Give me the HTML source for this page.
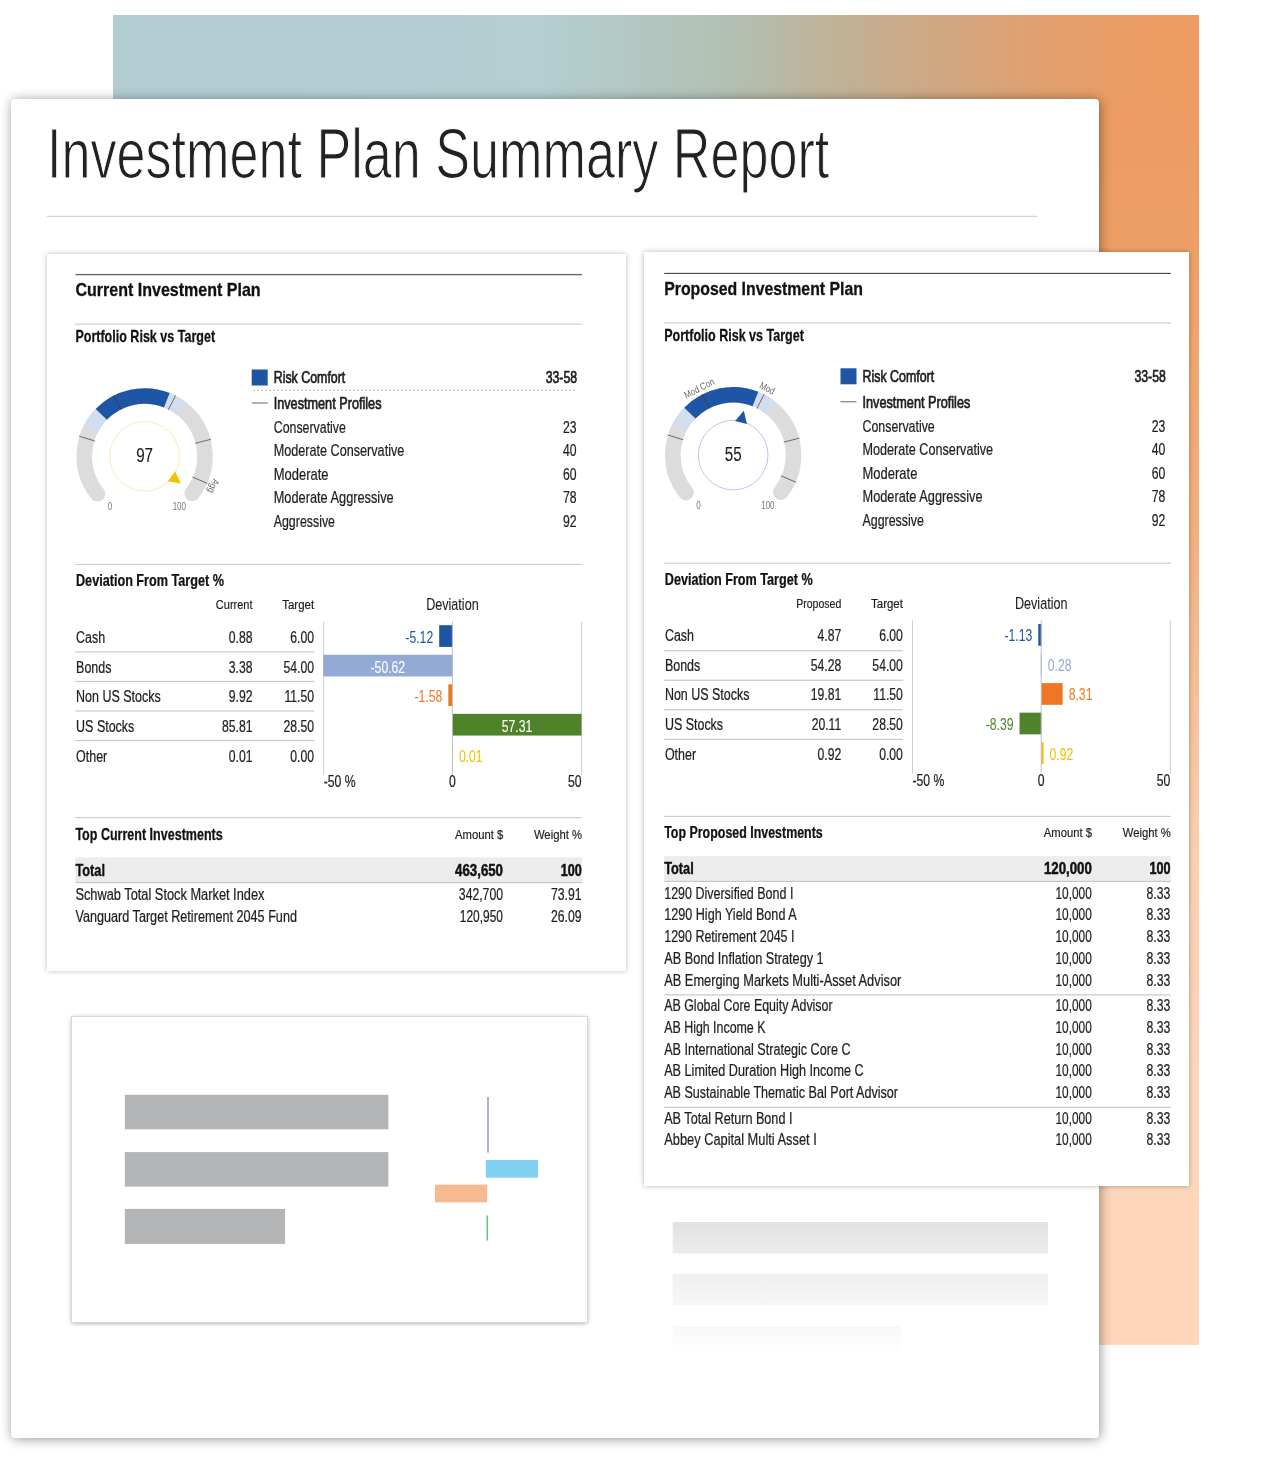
<!DOCTYPE html>
<html lang="en"><head><meta charset="utf-8"><title>Investment Plan Summary Report</title>
<style>
html,body{margin:0;padding:0;background:#fff}
body{width:1288px;height:1469px;position:relative;overflow:hidden;font-family:"Liberation Sans",sans-serif}
.abs{position:absolute}
#bg{left:113px;top:15px;width:1086px;height:1330px;background:
 linear-gradient(to right,#b3cdd3 0,#b3cfd2 427px,#b2c0b2 617px,#c2b094 737px,#d4a67e 847px,#e1a06f 927px,#ec9c62 1027px,#ed9c61 1086px);}
#strip{left:1096px;top:99px;width:103px;height:1246px;background:linear-gradient(to bottom,#ec9c62 0,#ee9f66 150px,#f3b07f 430px,#fbcfae 750px,#fed6b9 1000px,#fed7ba 1246px)}
#page{left:11px;top:99px;width:1088px;height:1339px;background:#fff;border-radius:4px;box-shadow:1px 1px 12px rgba(0,0,0,.42)}
#lp{left:47px;top:254px;width:579px;height:717px;background:#fff;box-shadow:0 0 5px rgba(0,0,0,.26)}
#rp{left:644px;top:252px;width:545px;height:934px;background:#fff;box-shadow:0 0 5px rgba(0,0,0,.3)}
#ph{left:72px;top:1017px;width:515px;height:305px;background:#fff;box-shadow:0 1px 5px rgba(0,0,0,.4);outline:1px solid #d8d8d8}
svg{position:absolute;left:0;top:0}
text{font-family:"Liberation Sans",sans-serif}
</style></head><body>
<div class="abs" id="bg"></div>
<div class="abs" id="strip"></div>
<div class="abs" id="page"></div>
<div class="abs" id="lp"></div>
<div class="abs" id="rp"></div>
<div class="abs" id="ph"></div>
<svg width="1288" height="1469" viewBox="0 0 1288 1469">
<g>
<text transform="translate(47.00 177.80) scale(0.7395 1)" font-size="70.5" fill="#222" stroke="#fff" stroke-width="1.15" paint-order="fill stroke">Investment Plan Summary Report</text>
<rect x="47.00" y="215.80" width="990.00" height="1.00" fill="#c9c9c9"/>
</g>
<g>
<rect x="75.40" y="273.90" width="506.60" height="1.40" fill="#6a6a6a"/>
<text transform="translate(75.40 295.50) scale(0.8912 1)" font-size="18" font-weight="700" fill="#111" stroke="#111" stroke-width="0.3">Current Investment Plan</text>
<rect x="75.40" y="323.60" width="506.60" height="1.20" fill="#cfcfcf"/>
<text transform="translate(75.40 341.70) scale(0.7837 1)" font-size="16" font-weight="700" fill="#111" stroke="#111" stroke-width="0.25">Portfolio Risk vs Target</text>
<path d="M97.42 493.85A60.3 60.3 0 1 1 192.13 493.41" fill="none" stroke="#dcdcdc" stroke-width="15.6" stroke-linecap="round"/>
<path d="M91.31 428.08A60.3 60.3 0 0 1 182.01 409.00" fill="none" stroke="#d2deef" stroke-width="15.6" stroke-linecap="butt"/>
<path d="M101.30 414.34A60.3 60.3 0 0 1 166.80 400.23" fill="none" stroke="#1f55a5" stroke-width="15.6" stroke-linecap="butt"/>
<path d="M94.71 440.95L79.22 436.19" stroke="#3a3a3a" stroke-width="0.7"/>
<path d="M120.90 409.79L113.55 395.36" stroke="#3a3a3a" stroke-width="0.7"/>
<path d="M168.30 409.79L175.65 395.36" stroke="#3a3a3a" stroke-width="0.7"/>
<path d="M195.16 443.32L210.85 439.29" stroke="#3a3a3a" stroke-width="0.7"/>
<path d="M192.51 477.03L207.37 483.46" stroke="#3a3a3a" stroke-width="0.7"/>
<circle cx="144.6" cy="456.3" r="34.8" fill="none" stroke="#fbe2a0" stroke-width="0.75"/>
<path d="M180.99 483.62L167.73 481.29L175.05 471.54Z" fill="#f5c000"/>
<text transform="translate(144.60 461.90) scale(0.7800 1)" font-size="19.5" fill="#1e1e1e" text-anchor="middle" stroke="#1e1e1e" stroke-width="0.1">97</text>
<text transform="translate(109.90 509.90) scale(0.8000 1)" font-size="10" fill="#777" text-anchor="middle">0</text>
<text transform="translate(179.30 509.90) scale(0.8000 1)" font-size="10" fill="#777" text-anchor="middle">100</text>
<text transform="translate(210.31 484.74) rotate(473.40) scale(0.8000 1)" font-size="10" fill="#666" text-anchor="middle">Agg</text>
<rect x="251.70" y="369.50" width="16.00" height="16.00" fill="#1f55a5"/>
<text transform="translate(273.70 383.40) scale(0.7756 1)" font-size="16" fill="#1e1e1e" stroke="#1e1e1e" stroke-width="0.7">Risk Comfort</text>
<text transform="translate(577.00 383.40) scale(0.7650 1)" font-size="16" fill="#1e1e1e" text-anchor="end" stroke="#1e1e1e" stroke-width="0.7">33-58</text>
<path d="M253.6 390.4H577" stroke="#666" stroke-width="1" stroke-dasharray="0.9 3.1"/>
<rect x="251.70" y="402.55" width="16.00" height="0.90" fill="#555"/>
<text transform="translate(273.70 409.20) scale(0.7931 1)" font-size="16" fill="#1e1e1e" stroke="#1e1e1e" stroke-width="0.7">Investment Profiles</text>
<text transform="translate(273.70 432.80) scale(0.7743 1)" font-size="16" fill="#1e1e1e" stroke="#1e1e1e" stroke-width="0.22">Conservative</text>
<text transform="translate(576.60 432.80) scale(0.7500 1)" font-size="16.3" fill="#1e1e1e" text-anchor="end" stroke="#1e1e1e" stroke-width="0.22">23</text>
<text transform="translate(273.70 456.20) scale(0.7902 1)" font-size="16" fill="#1e1e1e" stroke="#1e1e1e" stroke-width="0.22">Moderate Conservative</text>
<text transform="translate(576.60 456.20) scale(0.7500 1)" font-size="16.3" fill="#1e1e1e" text-anchor="end" stroke="#1e1e1e" stroke-width="0.22">40</text>
<text transform="translate(273.70 479.80) scale(0.8123 1)" font-size="16" fill="#1e1e1e" stroke="#1e1e1e" stroke-width="0.22">Moderate</text>
<text transform="translate(576.60 479.80) scale(0.7500 1)" font-size="16.3" fill="#1e1e1e" text-anchor="end" stroke="#1e1e1e" stroke-width="0.22">60</text>
<text transform="translate(273.70 503.40) scale(0.7991 1)" font-size="16" fill="#1e1e1e" stroke="#1e1e1e" stroke-width="0.22">Moderate Aggressive</text>
<text transform="translate(576.60 503.40) scale(0.7500 1)" font-size="16.3" fill="#1e1e1e" text-anchor="end" stroke="#1e1e1e" stroke-width="0.22">78</text>
<text transform="translate(273.70 526.80) scale(0.7758 1)" font-size="16" fill="#1e1e1e" stroke="#1e1e1e" stroke-width="0.22">Aggressive</text>
<text transform="translate(576.60 526.80) scale(0.7500 1)" font-size="16.3" fill="#1e1e1e" text-anchor="end" stroke="#1e1e1e" stroke-width="0.22">92</text>
<rect x="75.40" y="563.80" width="506.60" height="1.20" fill="#cfcfcf"/>
<text transform="translate(76.00 585.80) scale(0.7903 1)" font-size="16" font-weight="700" fill="#111" stroke="#111" stroke-width="0.25">Deviation From Target %</text>
<text transform="translate(252.50 609.10) scale(0.8153 1)" font-size="13.5" fill="#1e1e1e" text-anchor="end" stroke="#1e1e1e" stroke-width="0.2">Current</text>
<text transform="translate(314.10 609.10) scale(0.8503 1)" font-size="13.5" fill="#1e1e1e" text-anchor="end" stroke="#1e1e1e" stroke-width="0.2">Target</text>
<text transform="translate(452.40 610.00) scale(0.7886 1)" font-size="16" fill="#1e1e1e" text-anchor="middle" stroke="#1e1e1e" stroke-width="0.1">Deviation</text>
<rect x="323.20" y="621.50" width="1.00" height="153.30" fill="#cfcfcf"/>
<rect x="581.00" y="621.50" width="1.00" height="153.30" fill="#cfcfcf"/>
<text transform="translate(76.10 642.90) scale(0.8000 1)" font-size="15.6" fill="#1e1e1e" stroke="#1e1e1e" stroke-width="0.22">Cash</text>
<text transform="translate(252.50 642.90) scale(0.7500 1)" font-size="16.3" fill="#1e1e1e" text-anchor="end" stroke="#1e1e1e" stroke-width="0.22">0.88</text>
<text transform="translate(314.10 642.90) scale(0.7500 1)" font-size="16.3" fill="#1e1e1e" text-anchor="end" stroke="#1e1e1e" stroke-width="0.22">6.00</text>
<rect x="75.40" y="651.30" width="238.70" height="1.20" fill="#c8c8c8"/>
<rect x="439.18" y="625.20" width="13.52" height="21.70" fill="#1f55a5"/>
<text transform="translate(433.18 642.90) scale(0.7500 1)" font-size="16.3" fill="#1f55a5" text-anchor="end">-5.12</text>
<text transform="translate(76.10 673.00) scale(0.8000 1)" font-size="15.6" fill="#1e1e1e" stroke="#1e1e1e" stroke-width="0.22">Bonds</text>
<text transform="translate(252.50 673.00) scale(0.7500 1)" font-size="16.3" fill="#1e1e1e" text-anchor="end" stroke="#1e1e1e" stroke-width="0.22">3.38</text>
<text transform="translate(314.10 673.00) scale(0.7500 1)" font-size="16.3" fill="#1e1e1e" text-anchor="end" stroke="#1e1e1e" stroke-width="0.22">54.00</text>
<rect x="75.40" y="680.85" width="238.70" height="1.20" fill="#c8c8c8"/>
<rect x="323.30" y="654.75" width="129.40" height="21.70" fill="#92aad4"/>
<text transform="translate(387.85 673.00) scale(0.7500 1)" font-size="16.3" fill="#fff" text-anchor="middle" stroke="#fff" stroke-width="0.1">-50.62</text>
<text transform="translate(76.10 701.80) scale(0.8000 1)" font-size="15.6" fill="#1e1e1e" stroke="#1e1e1e" stroke-width="0.22">Non US Stocks</text>
<text transform="translate(252.50 701.80) scale(0.7500 1)" font-size="16.3" fill="#1e1e1e" text-anchor="end" stroke="#1e1e1e" stroke-width="0.22">9.92</text>
<text transform="translate(314.10 701.80) scale(0.7500 1)" font-size="16.3" fill="#1e1e1e" text-anchor="end" stroke="#1e1e1e" stroke-width="0.22">11.50</text>
<rect x="75.40" y="710.40" width="238.70" height="1.20" fill="#c8c8c8"/>
<rect x="448.32" y="684.30" width="4.38" height="21.70" fill="#ef7622"/>
<text transform="translate(442.32 701.80) scale(0.7500 1)" font-size="16.3" fill="#ef7622" text-anchor="end">-1.58</text>
<text transform="translate(76.10 731.90) scale(0.8000 1)" font-size="15.6" fill="#1e1e1e" stroke="#1e1e1e" stroke-width="0.22">US Stocks</text>
<text transform="translate(252.50 731.90) scale(0.7500 1)" font-size="16.3" fill="#1e1e1e" text-anchor="end" stroke="#1e1e1e" stroke-width="0.22">85.81</text>
<text transform="translate(314.10 731.90) scale(0.7500 1)" font-size="16.3" fill="#1e1e1e" text-anchor="end" stroke="#1e1e1e" stroke-width="0.22">28.50</text>
<rect x="75.40" y="739.95" width="238.70" height="1.20" fill="#c8c8c8"/>
<rect x="452.40" y="713.85" width="129.10" height="21.70" fill="#4f8329"/>
<text transform="translate(516.95 731.90) scale(0.7500 1)" font-size="16.3" fill="#fff" text-anchor="middle" stroke="#fff" stroke-width="0.1">57.31</text>
<text transform="translate(76.10 761.60) scale(0.8000 1)" font-size="15.6" fill="#1e1e1e" stroke="#1e1e1e" stroke-width="0.22">Other</text>
<text transform="translate(252.50 761.60) scale(0.7500 1)" font-size="16.3" fill="#1e1e1e" text-anchor="end" stroke="#1e1e1e" stroke-width="0.22">0.01</text>
<text transform="translate(314.10 761.60) scale(0.7500 1)" font-size="16.3" fill="#1e1e1e" text-anchor="end" stroke="#1e1e1e" stroke-width="0.22">0.00</text>
<rect x="452.00" y="743.40" width="0.90" height="21.70" fill="#f5c000"/>
<text transform="translate(458.90 761.60) scale(0.7500 1)" font-size="16.3" fill="#f5c000">0.01</text>
<rect x="451.90" y="621.50" width="1.00" height="153.30" fill="#c0c0c0"/>
<text transform="translate(323.70 787.40) scale(0.7500 1)" font-size="16.3" fill="#1e1e1e" stroke="#1e1e1e" stroke-width="0.22">-50 %</text>
<text transform="translate(452.40 787.40) scale(0.7500 1)" font-size="16.3" fill="#1e1e1e" text-anchor="middle" stroke="#1e1e1e" stroke-width="0.22">0</text>
<text transform="translate(581.50 787.40) scale(0.7500 1)" font-size="16.3" fill="#1e1e1e" text-anchor="end" stroke="#1e1e1e" stroke-width="0.22">50</text>
<rect x="75.40" y="817.00" width="506.60" height="1.20" fill="#cfcfcf"/>
<text transform="translate(75.40 839.60) scale(0.7834 1)" font-size="16" font-weight="700" fill="#111" stroke="#111" stroke-width="0.25">Top Current Investments</text>
<text transform="translate(503.20 838.50) scale(0.8342 1)" font-size="13.5" fill="#1e1e1e" text-anchor="end" stroke="#1e1e1e" stroke-width="0.2">Amount $</text>
<text transform="translate(582.00 838.50) scale(0.8362 1)" font-size="13.5" fill="#1e1e1e" text-anchor="end" stroke="#1e1e1e" stroke-width="0.2">Weight %</text>
<rect x="75.40" y="857.40" width="506.60" height="24.70" fill="#ececec"/>
<rect x="75.40" y="882.05" width="506.60" height="1.10" fill="#c4c4c4"/>
<text transform="translate(75.40 875.70) scale(0.7895 1)" font-size="16.2" font-weight="700" fill="#111" stroke="#111" stroke-width="0.4">Total</text>
<text transform="translate(503.00 876.00) scale(0.8181 1)" font-size="16.2" font-weight="700" fill="#111" text-anchor="end" stroke="#111" stroke-width="0.5">463,650</text>
<text transform="translate(581.80 876.00) scale(0.7770 1)" font-size="16.2" font-weight="700" fill="#111" text-anchor="end" stroke="#111" stroke-width="0.5">100</text>
<text transform="translate(75.40 899.70) scale(0.8209 1)" font-size="15.6" fill="#1e1e1e" stroke="#1e1e1e" stroke-width="0.22">Schwab Total Stock Market Index</text>
<text transform="translate(503.00 899.70) scale(0.7502 1)" font-size="16.3" fill="#1e1e1e" text-anchor="end" stroke="#1e1e1e" stroke-width="0.22">342,700</text>
<text transform="translate(581.50 899.70) scale(0.7500 1)" font-size="16.3" fill="#1e1e1e" text-anchor="end" stroke="#1e1e1e" stroke-width="0.22">73.91</text>
<text transform="translate(75.40 921.60) scale(0.8111 1)" font-size="15.6" fill="#1e1e1e" stroke="#1e1e1e" stroke-width="0.22">Vanguard Target Retirement 2045 Fund</text>
<text transform="translate(503.00 921.60) scale(0.7333 1)" font-size="16.3" fill="#1e1e1e" text-anchor="end" stroke="#1e1e1e" stroke-width="0.22">120,950</text>
<text transform="translate(581.50 921.60) scale(0.7500 1)" font-size="16.3" fill="#1e1e1e" text-anchor="end" stroke="#1e1e1e" stroke-width="0.22">26.09</text>
</g>
<g transform="translate(588.8 -1.2)">
<rect x="75.40" y="274.05" width="506.60" height="1.10" fill="#444"/>
<text transform="translate(75.40 296.20) scale(0.8799 1)" font-size="18" font-weight="700" fill="#111" stroke="#111" stroke-width="0.3">Proposed Investment Plan</text>
<rect x="75.40" y="323.60" width="506.60" height="1.20" fill="#cfcfcf"/>
<text transform="translate(75.40 341.70) scale(0.7837 1)" font-size="16" font-weight="700" fill="#111" stroke="#111" stroke-width="0.25">Portfolio Risk vs Target</text>
<path d="M97.22 493.85A60.3 60.3 0 1 1 191.93 493.41" fill="none" stroke="#dcdcdc" stroke-width="15.6" stroke-linecap="round"/>
<path d="M91.11 428.08A60.3 60.3 0 0 1 181.81 409.00" fill="none" stroke="#d2deef" stroke-width="15.6" stroke-linecap="butt"/>
<path d="M101.10 414.34A60.3 60.3 0 0 1 166.60 400.23" fill="none" stroke="#1f55a5" stroke-width="15.6" stroke-linecap="butt"/>
<path d="M94.51 440.95L79.02 436.19" stroke="#3a3a3a" stroke-width="0.7"/>
<path d="M120.70 409.79L113.35 395.36" stroke="#3a3a3a" stroke-width="0.7"/>
<path d="M168.10 409.79L175.45 395.36" stroke="#3a3a3a" stroke-width="0.7"/>
<path d="M194.96 443.32L210.65 439.29" stroke="#3a3a3a" stroke-width="0.7"/>
<path d="M192.31 477.03L207.17 483.46" stroke="#3a3a3a" stroke-width="0.7"/>
<circle cx="144.4" cy="456.3" r="34.8" fill="none" stroke="#9db7e0" stroke-width="0.75"/>
<path d="M155.02 412.06L158.15 425.15L146.29 422.30Z" fill="#1f55a5"/>
<text transform="translate(144.40 461.90) scale(0.7800 1)" font-size="19.5" fill="#1e1e1e" text-anchor="middle" stroke="#1e1e1e" stroke-width="0.1">55</text>
<text transform="translate(109.70 509.90) scale(0.8000 1)" font-size="10" fill="#777" text-anchor="middle">0</text>
<text transform="translate(179.10 509.90) scale(0.8000 1)" font-size="10" fill="#777" text-anchor="middle">100</text>
<text transform="translate(111.89 392.50) rotate(333.00) scale(0.8000 1)" font-size="10" fill="#666" text-anchor="middle">Mod Con</text>
<text transform="translate(176.91 392.50) rotate(387.00) scale(0.8000 1)" font-size="10" fill="#666" text-anchor="middle">Mod</text>
<rect x="251.70" y="369.50" width="16.00" height="16.00" fill="#1f55a5"/>
<text transform="translate(273.70 383.40) scale(0.7756 1)" font-size="16" fill="#1e1e1e" stroke="#1e1e1e" stroke-width="0.7">Risk Comfort</text>
<text transform="translate(577.00 383.40) scale(0.7650 1)" font-size="16" fill="#1e1e1e" text-anchor="end" stroke="#1e1e1e" stroke-width="0.7">33-58</text>
<rect x="251.70" y="402.55" width="16.00" height="0.90" fill="#555"/>
<text transform="translate(273.70 409.20) scale(0.7931 1)" font-size="16" fill="#1e1e1e" stroke="#1e1e1e" stroke-width="0.7">Investment Profiles</text>
<text transform="translate(273.70 432.80) scale(0.7743 1)" font-size="16" fill="#1e1e1e" stroke="#1e1e1e" stroke-width="0.22">Conservative</text>
<text transform="translate(576.60 432.80) scale(0.7500 1)" font-size="16.3" fill="#1e1e1e" text-anchor="end" stroke="#1e1e1e" stroke-width="0.22">23</text>
<text transform="translate(273.70 456.20) scale(0.7902 1)" font-size="16" fill="#1e1e1e" stroke="#1e1e1e" stroke-width="0.22">Moderate Conservative</text>
<text transform="translate(576.60 456.20) scale(0.7500 1)" font-size="16.3" fill="#1e1e1e" text-anchor="end" stroke="#1e1e1e" stroke-width="0.22">40</text>
<text transform="translate(273.70 479.80) scale(0.8123 1)" font-size="16" fill="#1e1e1e" stroke="#1e1e1e" stroke-width="0.22">Moderate</text>
<text transform="translate(576.60 479.80) scale(0.7500 1)" font-size="16.3" fill="#1e1e1e" text-anchor="end" stroke="#1e1e1e" stroke-width="0.22">60</text>
<text transform="translate(273.70 503.40) scale(0.7991 1)" font-size="16" fill="#1e1e1e" stroke="#1e1e1e" stroke-width="0.22">Moderate Aggressive</text>
<text transform="translate(576.60 503.40) scale(0.7500 1)" font-size="16.3" fill="#1e1e1e" text-anchor="end" stroke="#1e1e1e" stroke-width="0.22">78</text>
<text transform="translate(273.70 526.80) scale(0.7758 1)" font-size="16" fill="#1e1e1e" stroke="#1e1e1e" stroke-width="0.22">Aggressive</text>
<text transform="translate(576.60 526.80) scale(0.7500 1)" font-size="16.3" fill="#1e1e1e" text-anchor="end" stroke="#1e1e1e" stroke-width="0.22">92</text>
<rect x="75.40" y="563.80" width="506.60" height="1.20" fill="#cfcfcf"/>
<text transform="translate(76.00 585.80) scale(0.7903 1)" font-size="16" font-weight="700" fill="#111" stroke="#111" stroke-width="0.25">Deviation From Target %</text>
<text transform="translate(252.50 609.10) scale(0.7805 1)" font-size="13.5" fill="#1e1e1e" text-anchor="end" stroke="#1e1e1e" stroke-width="0.2">Proposed</text>
<text transform="translate(314.10 609.10) scale(0.8503 1)" font-size="13.5" fill="#1e1e1e" text-anchor="end" stroke="#1e1e1e" stroke-width="0.2">Target</text>
<text transform="translate(452.40 610.00) scale(0.7886 1)" font-size="16" fill="#1e1e1e" text-anchor="middle" stroke="#1e1e1e" stroke-width="0.1">Deviation</text>
<rect x="323.20" y="621.50" width="1.00" height="153.30" fill="#cfcfcf"/>
<rect x="581.00" y="621.50" width="1.00" height="153.30" fill="#cfcfcf"/>
<text transform="translate(76.10 642.20) scale(0.8000 1)" font-size="15.6" fill="#1e1e1e" stroke="#1e1e1e" stroke-width="0.22">Cash</text>
<text transform="translate(252.50 642.20) scale(0.7500 1)" font-size="16.3" fill="#1e1e1e" text-anchor="end" stroke="#1e1e1e" stroke-width="0.22">4.87</text>
<text transform="translate(314.10 642.20) scale(0.7500 1)" font-size="16.3" fill="#1e1e1e" text-anchor="end" stroke="#1e1e1e" stroke-width="0.22">6.00</text>
<rect x="75.40" y="651.30" width="238.70" height="1.20" fill="#c8c8c8"/>
<rect x="449.48" y="625.20" width="3.22" height="21.70" fill="#1f55a5"/>
<text transform="translate(443.48 642.20) scale(0.7500 1)" font-size="16.3" fill="#1f55a5" text-anchor="end">-1.13</text>
<text transform="translate(76.10 671.90) scale(0.8000 1)" font-size="15.6" fill="#1e1e1e" stroke="#1e1e1e" stroke-width="0.22">Bonds</text>
<text transform="translate(252.50 671.90) scale(0.7500 1)" font-size="16.3" fill="#1e1e1e" text-anchor="end" stroke="#1e1e1e" stroke-width="0.22">54.28</text>
<text transform="translate(314.10 671.90) scale(0.7500 1)" font-size="16.3" fill="#1e1e1e" text-anchor="end" stroke="#1e1e1e" stroke-width="0.22">54.00</text>
<rect x="75.40" y="680.85" width="238.70" height="1.20" fill="#c8c8c8"/>
<rect x="452.00" y="654.75" width="0.90" height="21.70" fill="#92aad4"/>
<text transform="translate(458.90 671.90) scale(0.7500 1)" font-size="16.3" fill="#92aad4">0.28</text>
<text transform="translate(76.10 701.50) scale(0.8000 1)" font-size="15.6" fill="#1e1e1e" stroke="#1e1e1e" stroke-width="0.22">Non US Stocks</text>
<text transform="translate(252.50 701.50) scale(0.7500 1)" font-size="16.3" fill="#1e1e1e" text-anchor="end" stroke="#1e1e1e" stroke-width="0.22">19.81</text>
<text transform="translate(314.10 701.50) scale(0.7500 1)" font-size="16.3" fill="#1e1e1e" text-anchor="end" stroke="#1e1e1e" stroke-width="0.22">11.50</text>
<rect x="75.40" y="710.40" width="238.70" height="1.20" fill="#c8c8c8"/>
<rect x="452.40" y="684.30" width="21.46" height="21.70" fill="#ef7622"/>
<text transform="translate(479.86 701.50) scale(0.7500 1)" font-size="16.3" fill="#ef7622">8.31</text>
<text transform="translate(76.10 731.50) scale(0.8000 1)" font-size="15.6" fill="#1e1e1e" stroke="#1e1e1e" stroke-width="0.22">US Stocks</text>
<text transform="translate(252.50 731.50) scale(0.7500 1)" font-size="16.3" fill="#1e1e1e" text-anchor="end" stroke="#1e1e1e" stroke-width="0.22">20.11</text>
<text transform="translate(314.10 731.50) scale(0.7500 1)" font-size="16.3" fill="#1e1e1e" text-anchor="end" stroke="#1e1e1e" stroke-width="0.22">28.50</text>
<rect x="75.40" y="739.95" width="238.70" height="1.20" fill="#c8c8c8"/>
<rect x="430.74" y="713.85" width="21.96" height="21.70" fill="#4f8329"/>
<text transform="translate(424.74 731.50) scale(0.7500 1)" font-size="16.3" fill="#4f8329" text-anchor="end">-8.39</text>
<text transform="translate(76.10 761.20) scale(0.8000 1)" font-size="15.6" fill="#1e1e1e" stroke="#1e1e1e" stroke-width="0.22">Other</text>
<text transform="translate(252.50 761.20) scale(0.7500 1)" font-size="16.3" fill="#1e1e1e" text-anchor="end" stroke="#1e1e1e" stroke-width="0.22">0.92</text>
<text transform="translate(314.10 761.20) scale(0.7500 1)" font-size="16.3" fill="#1e1e1e" text-anchor="end" stroke="#1e1e1e" stroke-width="0.22">0.00</text>
<rect x="452.40" y="743.40" width="2.38" height="21.70" fill="#f5c000"/>
<text transform="translate(460.78 761.20) scale(0.7500 1)" font-size="16.3" fill="#f5c000">0.92</text>
<rect x="451.90" y="621.50" width="1.00" height="153.30" fill="#c0c0c0"/>
<text transform="translate(323.70 787.40) scale(0.7500 1)" font-size="16.3" fill="#1e1e1e" stroke="#1e1e1e" stroke-width="0.22">-50 %</text>
<text transform="translate(452.40 787.40) scale(0.7500 1)" font-size="16.3" fill="#1e1e1e" text-anchor="middle" stroke="#1e1e1e" stroke-width="0.22">0</text>
<text transform="translate(581.50 787.40) scale(0.7500 1)" font-size="16.3" fill="#1e1e1e" text-anchor="end" stroke="#1e1e1e" stroke-width="0.22">50</text>
<rect x="75.40" y="817.00" width="506.60" height="1.20" fill="#cfcfcf"/>
<text transform="translate(75.40 839.60) scale(0.7773 1)" font-size="16" font-weight="700" fill="#111" stroke="#111" stroke-width="0.25">Top Proposed Investments</text>
<text transform="translate(503.20 838.50) scale(0.8342 1)" font-size="13.5" fill="#1e1e1e" text-anchor="end" stroke="#1e1e1e" stroke-width="0.2">Amount $</text>
<text transform="translate(582.00 838.50) scale(0.8362 1)" font-size="13.5" fill="#1e1e1e" text-anchor="end" stroke="#1e1e1e" stroke-width="0.2">Weight %</text>
<rect x="75.40" y="857.40" width="506.60" height="24.70" fill="#ececec"/>
<rect x="75.40" y="882.05" width="506.60" height="1.10" fill="#c4c4c4"/>
<text transform="translate(75.40 875.00) scale(0.7895 1)" font-size="16.2" font-weight="700" fill="#111" stroke="#111" stroke-width="0.4">Total</text>
<text transform="translate(503.00 875.00) scale(0.8181 1)" font-size="16.2" font-weight="700" fill="#111" text-anchor="end" stroke="#111" stroke-width="0.5">120,000</text>
<text transform="translate(581.80 875.00) scale(0.7770 1)" font-size="16.2" font-weight="700" fill="#111" text-anchor="end" stroke="#111" stroke-width="0.5">100</text>
<rect x="75.40" y="995.55" width="506.60" height="1.10" fill="#c4c4c4"/>
<rect x="75.40" y="1108.05" width="506.60" height="1.10" fill="#c4c4c4"/>
<text transform="translate(75.40 899.90) scale(0.8017 1)" font-size="15.6" fill="#1e1e1e" stroke="#1e1e1e" stroke-width="0.22">1290 Diversified Bond I</text>
<text transform="translate(503.00 899.90) scale(0.7282 1)" font-size="16.3" fill="#1e1e1e" text-anchor="end" stroke="#1e1e1e" stroke-width="0.22">10,000</text>
<text transform="translate(581.50 899.90) scale(0.7500 1)" font-size="16.3" fill="#1e1e1e" text-anchor="end" stroke="#1e1e1e" stroke-width="0.22">8.33</text>
<text transform="translate(75.40 921.60) scale(0.8083 1)" font-size="15.6" fill="#1e1e1e" stroke="#1e1e1e" stroke-width="0.22">1290 High Yield Bond A</text>
<text transform="translate(503.00 921.60) scale(0.7282 1)" font-size="16.3" fill="#1e1e1e" text-anchor="end" stroke="#1e1e1e" stroke-width="0.22">10,000</text>
<text transform="translate(581.50 921.60) scale(0.7500 1)" font-size="16.3" fill="#1e1e1e" text-anchor="end" stroke="#1e1e1e" stroke-width="0.22">8.33</text>
<text transform="translate(75.40 943.30) scale(0.7999 1)" font-size="15.6" fill="#1e1e1e" stroke="#1e1e1e" stroke-width="0.22">1290 Retirement 2045 I</text>
<text transform="translate(503.00 943.30) scale(0.7282 1)" font-size="16.3" fill="#1e1e1e" text-anchor="end" stroke="#1e1e1e" stroke-width="0.22">10,000</text>
<text transform="translate(581.50 943.30) scale(0.7500 1)" font-size="16.3" fill="#1e1e1e" text-anchor="end" stroke="#1e1e1e" stroke-width="0.22">8.33</text>
<text transform="translate(75.40 965.00) scale(0.8139 1)" font-size="15.6" fill="#1e1e1e" stroke="#1e1e1e" stroke-width="0.22">AB Bond Inflation Strategy 1</text>
<text transform="translate(503.00 965.00) scale(0.7282 1)" font-size="16.3" fill="#1e1e1e" text-anchor="end" stroke="#1e1e1e" stroke-width="0.22">10,000</text>
<text transform="translate(581.50 965.00) scale(0.7500 1)" font-size="16.3" fill="#1e1e1e" text-anchor="end" stroke="#1e1e1e" stroke-width="0.22">8.33</text>
<text transform="translate(75.40 986.70) scale(0.8220 1)" font-size="15.6" fill="#1e1e1e" stroke="#1e1e1e" stroke-width="0.22">AB Emerging Markets Multi-Asset Advisor</text>
<text transform="translate(503.00 986.70) scale(0.7282 1)" font-size="16.3" fill="#1e1e1e" text-anchor="end" stroke="#1e1e1e" stroke-width="0.22">10,000</text>
<text transform="translate(581.50 986.70) scale(0.7500 1)" font-size="16.3" fill="#1e1e1e" text-anchor="end" stroke="#1e1e1e" stroke-width="0.22">8.33</text>
<text transform="translate(75.40 1012.40) scale(0.7965 1)" font-size="15.6" fill="#1e1e1e" stroke="#1e1e1e" stroke-width="0.22">AB Global Core Equity Advisor</text>
<text transform="translate(503.00 1012.40) scale(0.7282 1)" font-size="16.3" fill="#1e1e1e" text-anchor="end" stroke="#1e1e1e" stroke-width="0.22">10,000</text>
<text transform="translate(581.50 1012.40) scale(0.7500 1)" font-size="16.3" fill="#1e1e1e" text-anchor="end" stroke="#1e1e1e" stroke-width="0.22">8.33</text>
<text transform="translate(75.40 1034.10) scale(0.7956 1)" font-size="15.6" fill="#1e1e1e" stroke="#1e1e1e" stroke-width="0.22">AB High Income K</text>
<text transform="translate(503.00 1034.10) scale(0.7282 1)" font-size="16.3" fill="#1e1e1e" text-anchor="end" stroke="#1e1e1e" stroke-width="0.22">10,000</text>
<text transform="translate(581.50 1034.10) scale(0.7500 1)" font-size="16.3" fill="#1e1e1e" text-anchor="end" stroke="#1e1e1e" stroke-width="0.22">8.33</text>
<text transform="translate(75.40 1055.80) scale(0.8086 1)" font-size="15.6" fill="#1e1e1e" stroke="#1e1e1e" stroke-width="0.22">AB International Strategic Core C</text>
<text transform="translate(503.00 1055.80) scale(0.7282 1)" font-size="16.3" fill="#1e1e1e" text-anchor="end" stroke="#1e1e1e" stroke-width="0.22">10,000</text>
<text transform="translate(581.50 1055.80) scale(0.7500 1)" font-size="16.3" fill="#1e1e1e" text-anchor="end" stroke="#1e1e1e" stroke-width="0.22">8.33</text>
<text transform="translate(75.40 1077.50) scale(0.8102 1)" font-size="15.6" fill="#1e1e1e" stroke="#1e1e1e" stroke-width="0.22">AB Limited Duration High Income C</text>
<text transform="translate(503.00 1077.50) scale(0.7282 1)" font-size="16.3" fill="#1e1e1e" text-anchor="end" stroke="#1e1e1e" stroke-width="0.22">10,000</text>
<text transform="translate(581.50 1077.50) scale(0.7500 1)" font-size="16.3" fill="#1e1e1e" text-anchor="end" stroke="#1e1e1e" stroke-width="0.22">8.33</text>
<text transform="translate(75.40 1099.20) scale(0.8067 1)" font-size="15.6" fill="#1e1e1e" stroke="#1e1e1e" stroke-width="0.22">AB Sustainable Thematic Bal Port Advisor</text>
<text transform="translate(503.00 1099.20) scale(0.7282 1)" font-size="16.3" fill="#1e1e1e" text-anchor="end" stroke="#1e1e1e" stroke-width="0.22">10,000</text>
<text transform="translate(581.50 1099.20) scale(0.7500 1)" font-size="16.3" fill="#1e1e1e" text-anchor="end" stroke="#1e1e1e" stroke-width="0.22">8.33</text>
<text transform="translate(75.40 1124.90) scale(0.8100 1)" font-size="15.6" fill="#1e1e1e" stroke="#1e1e1e" stroke-width="0.22">AB Total Return Bond I</text>
<text transform="translate(503.00 1124.90) scale(0.7282 1)" font-size="16.3" fill="#1e1e1e" text-anchor="end" stroke="#1e1e1e" stroke-width="0.22">10,000</text>
<text transform="translate(581.50 1124.90) scale(0.7500 1)" font-size="16.3" fill="#1e1e1e" text-anchor="end" stroke="#1e1e1e" stroke-width="0.22">8.33</text>
<text transform="translate(75.40 1146.60) scale(0.8235 1)" font-size="15.6" fill="#1e1e1e" stroke="#1e1e1e" stroke-width="0.22">Abbey Capital Multi Asset I</text>
<text transform="translate(503.00 1146.60) scale(0.7282 1)" font-size="16.3" fill="#1e1e1e" text-anchor="end" stroke="#1e1e1e" stroke-width="0.22">10,000</text>
<text transform="translate(581.50 1146.60) scale(0.7500 1)" font-size="16.3" fill="#1e1e1e" text-anchor="end" stroke="#1e1e1e" stroke-width="0.22">8.33</text>
</g>
<rect x="124.80" y="1094.80" width="263.60" height="34.50" fill="#b4b5b7"/>
<rect x="124.80" y="1152.10" width="263.60" height="34.50" fill="#b4b5b7"/>
<rect x="124.80" y="1208.90" width="160.30" height="35.00" fill="#b4b5b7"/>
<rect x="487.30" y="1097.00" width="1.40" height="55.60" fill="#8f8fc4"/>
<rect x="485.80" y="1160.00" width="52.20" height="17.70" fill="#7fd0f3"/>
<rect x="435.00" y="1184.70" width="52.20" height="17.70" fill="#f7b98f"/>
<rect x="486.50" y="1215.50" width="1.60" height="25.10" fill="#6cc08b"/>
<defs><linearGradient id="f1" x1="0" y1="0" x2="0" y2="1"><stop offset="0" stop-color="#e0e2e3"/><stop offset="1" stop-color="#ececec"/></linearGradient><linearGradient id="f2" x1="0" y1="0" x2="0" y2="1"><stop offset="0" stop-color="#efefef"/><stop offset="1" stop-color="#f7f7f7"/></linearGradient><linearGradient id="f3" x1="0" y1="0" x2="0" y2="1"><stop offset="0" stop-color="#f8f8f8"/><stop offset="1" stop-color="#ffffff"/></linearGradient></defs>
<rect x="672.70" y="1222.00" width="375.30" height="31.60" fill="url(#f1)"/>
<rect x="672.70" y="1273.80" width="375.30" height="31.20" fill="url(#f2)"/>
<rect x="672.70" y="1326.00" width="228.00" height="30.00" fill="url(#f3)"/>
</svg>
</body></html>
